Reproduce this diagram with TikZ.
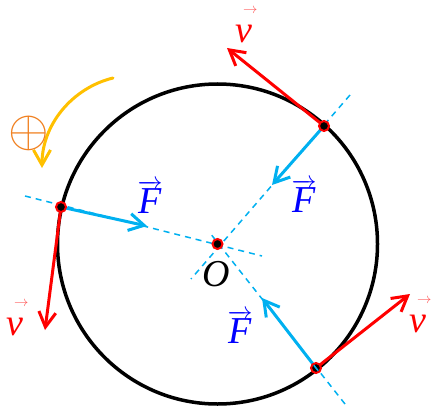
\documentclass[tikz,border=0pt]{standalone}
\usepackage{fontspec}
\setmainfont{Liberation Serif}
\usetikzlibrary{arrows.meta,calc}
\definecolor{cyanF}{HTML}{00B0F0}
\definecolor{blueF}{HTML}{0000FF}
\definecolor{redV}{HTML}{FF0000}
\definecolor{yel}{HTML}{FFC000}
\definecolor{orng}{HTML}{F08020}
\newcommand\myvecv{\textit{v}\llap{\raisebox{29pt}{\textcolor{redV!65}{\fontsize{14}{14}\selectfont$\rightarrow$}}\kern-5pt}}
\tikzset{
  barb/.style={-{Straight Barb[length=15pt,width=17pt]}, line cap=round, line join=round},
  vel/.style={draw=redV, line width=3pt, barb},
  force/.style={draw=cyanF, line width=3pt, barb},
  radial/.style={draw=cyanF, line width=1.5pt, dash pattern=on 6pt off 5pt},
  pt/.style={circle, fill=black, draw=redV, line width=2pt, inner sep=0pt, minimum size=10pt},
  vlab/.style={text=redV, font=\fontsize{38}{42}\selectfont, inner sep=0pt, anchor=base},
  flab/.style={text=blueF, font=\fontsize{38}{42}\selectfont, inner sep=0pt, anchor=base},
  olab/.style={text=black, font=\fontsize{38}{42}\selectfont, inner sep=0pt, anchor=base}
}
\begin{document}
\begin{tikzpicture}[x=1pt,y=-1pt]
\useasboundingbox (0,0) rectangle (433,414);
\coordinate (O) at (217.5,244);
% circle
\draw[line width=3.5pt] (O) circle[radius=160];
% coordinates
\coordinate (A) at (324,126);
\coordinate (Av) at (227,48);
\coordinate (AF) at (272,185);
\coordinate (Ad1) at (350,95);
\coordinate (Ad2) at (191,279);
\coordinate (B) at (61,207);
\coordinate (Bv) at (45,330);
\coordinate (BF) at (147,226);
\coordinate (Bd1) at (25,196);
\coordinate (Bd2) at (262,256);
\coordinate (C) at (316,368);
\coordinate (Cv) at (410,294);
\coordinate (CF) at (262,298);
\coordinate (Cd1) at (345,404);
\coordinate (Cd2) at (210,233);
% radial dashed lines
\draw[radial] (Ad1) -- (Ad2);
\draw[radial] (Bd1) -- (Bd2);
\draw[radial] (Cd1) -- (Cd2);
% forces
\draw[force] (A) -- (AF);
\draw[force] (B) -- (BF);
\draw[force] (C) -- (CF);
% velocities
\draw[vel] (A) -- (Av);
\draw[vel] (B) -- (Bv);
\draw[vel] (C) -- (Cv);
% points
\node[pt] (pA) at (A) {};
\node[pt] (pB) at (B) {};
\node[pt] (pC) at (C) {};
\node[pt] (pO) at (O) {};
\draw[draw=cyanF, line width=1.5pt] ($(C)!-3.5pt!(Cd1)$) -- ($(C)!3.5pt!(Cd1)$);
% labels
\node[vlab] (lvA) at (244,43) {\myvecv};
\node[vlab] (lvB) at (15,335) {\myvecv};
\node[vlab] (lvC) at (418,332) {\myvecv};
\node[flab] (lFB) at (150,213) {$\overrightarrow{\textit{F}}$};
\node[flab] (lFA) at (304,212) {$\overrightarrow{\textit{F}}$};
\node[flab] (lFC) at (240,343) {$\overrightarrow{\textit{F}}$};
\node[olab] (lO) at (216,286) {\textit{O}};
% rotation sense
\coordinate (R1) at (113,78);
\coordinate (R2) at (42,168);
\draw[draw=yel, line width=3pt, barb] (R1) .. controls (72,88) and (42,125) .. (R2);
\node[text=orng, inner sep=0pt, font=\fontsize{24.88}{28}\selectfont] (plus) at (29,133) {\scalebox{2.1}{$\oplus$}};
\end{tikzpicture}
\end{document}
